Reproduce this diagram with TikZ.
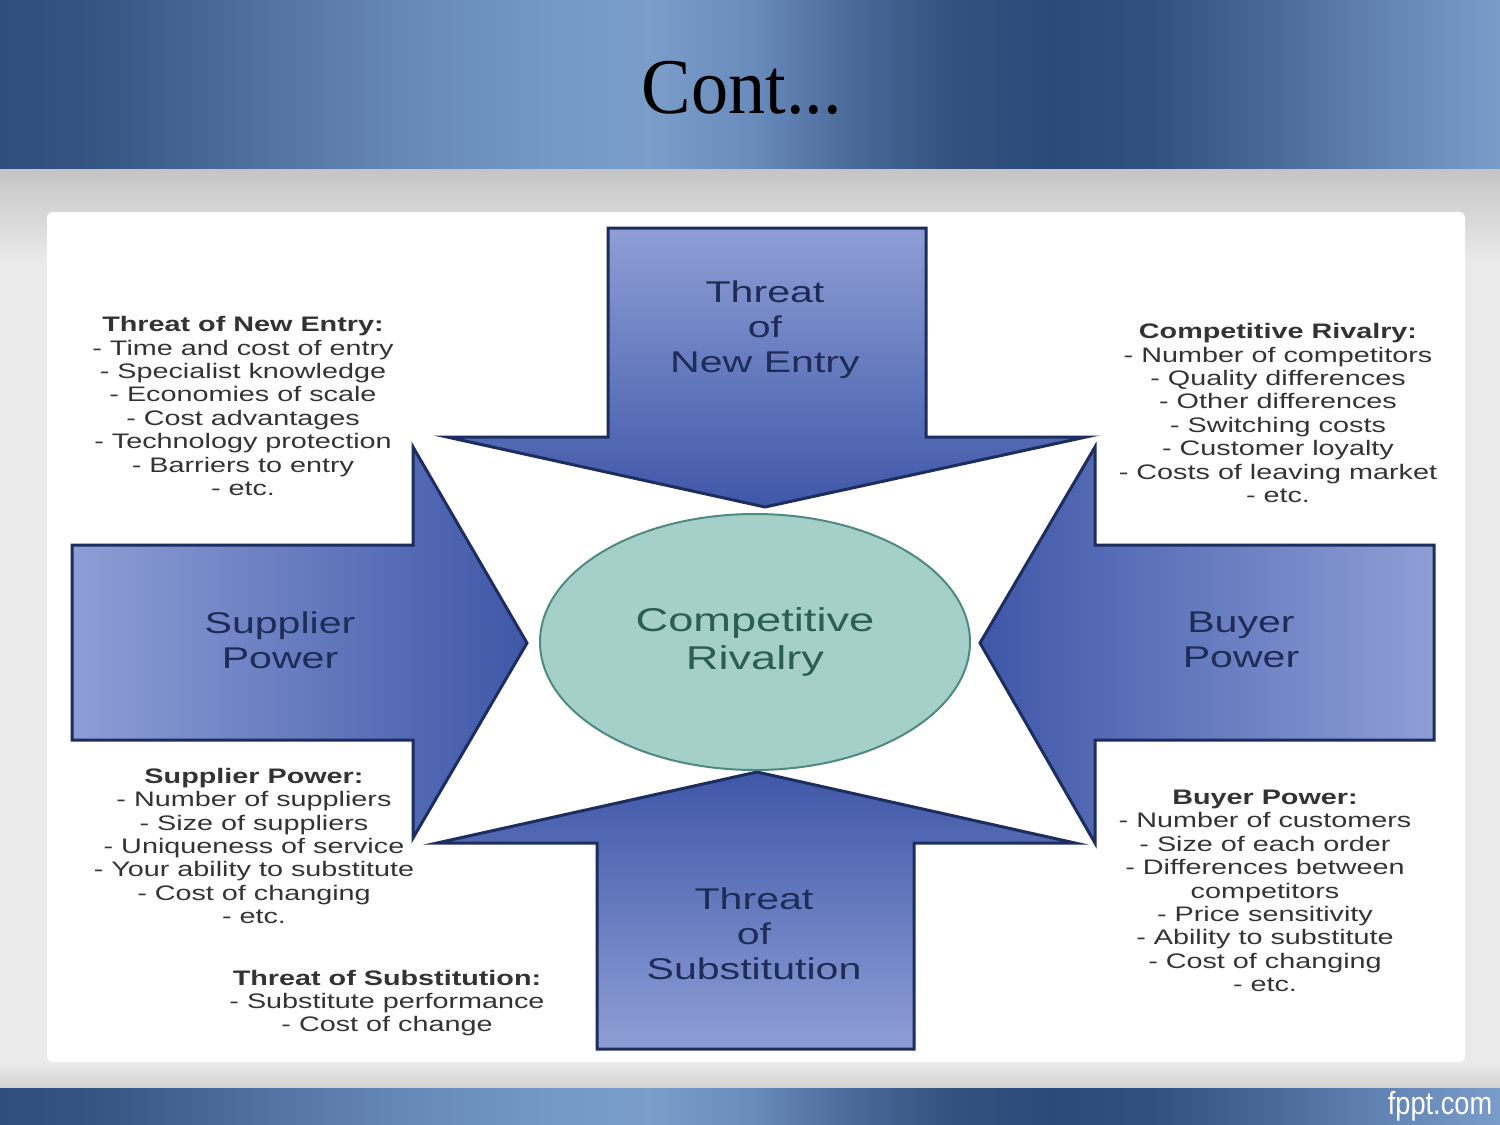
\documentclass[tikz,border=0pt]{standalone}
\usepackage{fontspec}
\setmainfont{Liberation Sans}
\newfontfamily\diagfont[FakeStretch=1.37]{Liberation Sans}
\newfontfamily\titlefont[FakeStretch=0.94]{Liberation Serif}
\newfontfamily\brandfont[FakeStretch=0.85]{Liberation Sans}
\usetikzlibrary{shapes.geometric}

\definecolor{bn0}{HTML}{2F4D7D}
\definecolor{bn1}{HTML}{355583}
\definecolor{bn2}{HTML}{4F6F9F}
\definecolor{bn3}{HTML}{6688B8}
\definecolor{bn4}{HTML}{7499C6}
\definecolor{bn5}{HTML}{7A9DCA}
\definecolor{bn6}{HTML}{6A8CBC}
\definecolor{bn7}{HTML}{4A6A9A}
\definecolor{bn8}{HTML}{33527F}
\definecolor{bn9}{HTML}{2A4A7A}
\definecolor{bn10}{HTML}{30507F}
\definecolor{bn11}{HTML}{4B6B9B}
\definecolor{bn12}{HTML}{6688B8}
\definecolor{bn13}{HTML}{7A9CC9}
\definecolor{arrowlight}{HTML}{8E9ED5}
\definecolor{arrowdark}{HTML}{3F57A8}
\definecolor{arrowline}{HTML}{1C2D5E}
\definecolor{navytext}{HTML}{1E2C58}
\definecolor{listgray}{HTML}{333333}
\definecolor{circfill}{HTML}{A5D0C9}
\definecolor{circline}{HTML}{4E8A80}
\definecolor{circtext}{HTML}{2A5E57}
\definecolor{graytop}{HTML}{C4C4C4}
\definecolor{graymid}{HTML}{EAEAEA}
\definecolor{graybot}{HTML}{D2D2D2}

\pgfdeclarehorizontalshading{banner}{100bp}{color(0bp)=(bn0); color(25bp)=(bn0); color(28.35bp)=(bn1); color(33.35bp)=(bn2); color(38.35bp)=(bn3); color(43.35bp)=(bn4); color(46.65bp)=(bn5); color(50bp)=(bn6); color(53.35bp)=(bn7); color(56.65bp)=(bn8); color(60bp)=(bn9); color(63.35bp)=(bn10); color(67.65bp)=(bn11); color(71.65bp)=(bn12); color(75bp)=(bn13); color(100bp)=(bn13)}

\tikzset{
  arrowshape/.style={draw=arrowline, line width=3pt, line join=miter},
  listtext/.style={font=\diagfont\fontsize{21}{23.4}\selectfont, text=listgray, align=center, inner sep=0pt},
  arrowtext/.style={font=\diagfont\fontsize{30}{35}\selectfont, text=navytext, align=center, inner sep=0pt},
}

\begin{document}
\begin{tikzpicture}[x=1pt, y=-1pt]
\useasboundingbox (0,0) rectangle (1500,1125);
% background
\fill[graymid] (0,168) rectangle (1500,1088);
\shade[top color=graytop, bottom color=graymid] (0,168) rectangle (1500,262);
\shade[top color=graymid, bottom color=graybot] (0,1062) rectangle (1500,1088);
\shade[shading=banner] (0,0) rectangle (1500,168);
\shade[shading=banner] (0,1088) rectangle (1500,1125);
\fill[white, rounded corners=6pt] (47,212) rectangle (1465,1062);

% title
\node[font=\titlefont\fontsize{79}{82}\selectfont, inner sep=0pt] (title) at (742,88) {Cont...};
\node[font=\brandfont\fontsize{32}{34}\selectfont, text=white, inner sep=0pt] (brand) at (1440,1106) {fppt.com};

% arrows
\shade[arrowshape, top color=arrowlight, bottom color=arrowdark]
  (608,228) -- (926,228) -- (926,437) -- (1086,437) -- (765,507) -- (447,437) -- (608,437) -- cycle;
\shade[arrowshape, left color=arrowlight, right color=arrowdark]
  (72,545) -- (413,545) -- (413,447) -- (527,643) -- (413,838) -- (413,740) -- (72,740) -- cycle;
\shade[arrowshape, right color=arrowlight, left color=arrowdark]
  (1434,545) -- (1095,545) -- (1095,447) -- (980,643) -- (1095,843) -- (1095,740) -- (1434,740) -- cycle;
\shade[arrowshape, bottom color=arrowlight, top color=arrowdark]
  (597,1049) -- (914,1049) -- (914,843) -- (1075,843) -- (757,772) -- (437,843) -- (597,843) -- cycle;

\node[arrowtext] (newentry) at (765,330) {Threat\\of\\New Entry};
\node[arrowtext] (supplier) at (280,640) {Supplier\\Power};
\node[arrowtext] (buyer) at (1241,640) {Buyer\\Power};
\node[arrowtext] (substitution) at (754,934) {Threat\\of\\Substitution};

% circle
\node[ellipse, draw=circline, line width=2pt, fill=circfill, minimum width=430pt, minimum height=256pt,
  font=\diagfont\fontsize{33}{38}\selectfont, text=circtext, align=center] (rivalry) at (755,642) {Competitive\\Rivalry};

% text blocks
\node[listtext] (listnew) at (243,406) {\textbf{Threat of New Entry:}\\- Time and cost of entry\\- Specialist knowledge\\- Economies of scale\\- Cost advantages\\- Technology protection\\- Barriers to entry\\- etc.};
\node[listtext] (listriv) at (1278,413) {\textbf{Competitive Rivalry:}\\- Number of competitors\\- Quality differences\\- Other differences\\- Switching costs\\- Customer loyalty\\- Costs of leaving market\\- etc.};
\node[listtext] (listsup) at (254,846) {\textbf{Supplier Power:}\\- Number of suppliers\\- Size of suppliers\\- Uniqueness of service\\- Your ability to substitute\\- Cost of changing\\- etc.};
\node[listtext] (listbuy) at (1265,891) {\textbf{Buyer Power:}\\- Number of customers\\- Size of each order\\- Differences between\\competitors\\- Price sensitivity\\- Ability to substitute\\- Cost of changing\\- etc.};
\node[listtext] (listsub) at (387,1003) {\textbf{Threat of Substitution:}\\- Substitute performance\\- Cost of change};
\end{tikzpicture}
\end{document}
